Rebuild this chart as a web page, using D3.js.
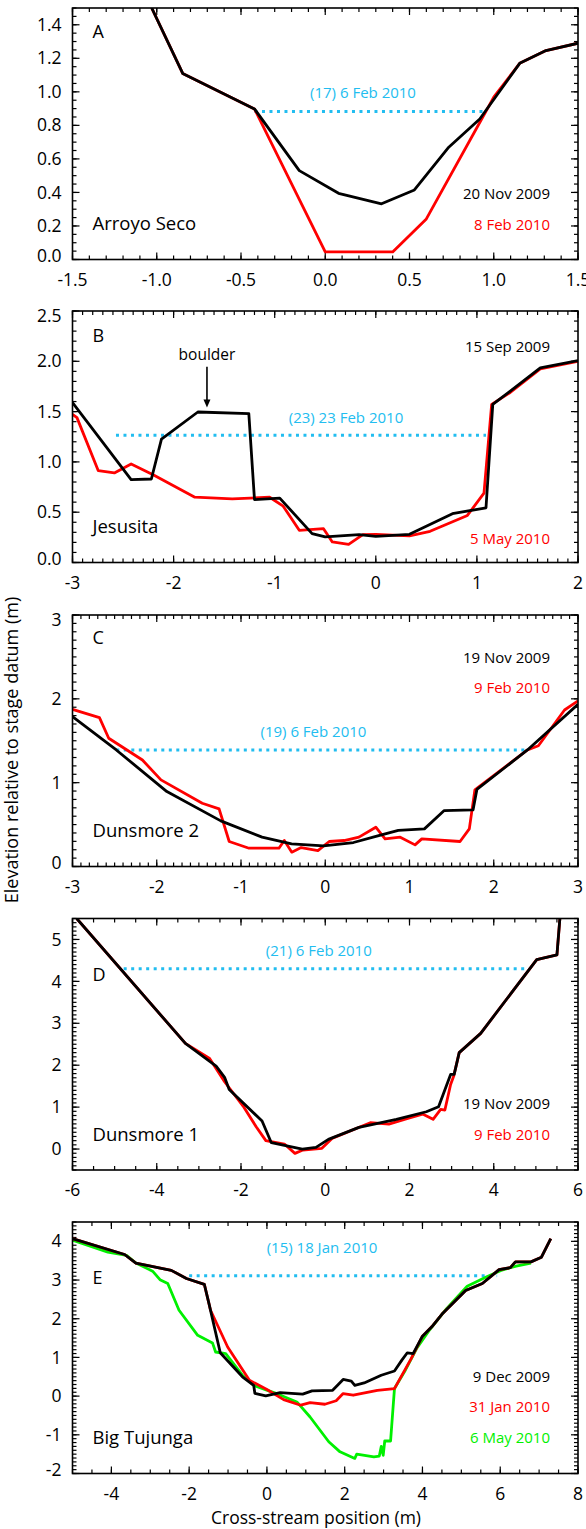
<!DOCTYPE html>
<html>
<head>
<meta charset="utf-8">
<script src="https://cdn.jsdelivr.net/npm/d3@7"></script>
<style>
  body { margin: 0; background: #fff; }
  svg text { font-family: "Open Sans", sans-serif; }
</style>
</head>
<body>
<script>
// cross-section profiles, [cross-stream position (m), elevation (m)]

// A - Arroyo Seco
var arroyoNov2009 = [[-1.03,1.50],[-0.846,1.11],[-0.42,0.898],[-0.154,0.53],[0.079,0.395],[0.334,0.332],
  [0.529,0.415],[0.733,0.67],[0.917,0.838],[1.154,1.17],[1.31,1.246],[1.5,1.29]];
var arroyoFeb2010 = [[-1.03,1.50],[-0.846,1.11],[-0.42,0.898],[0.0,0.045],[0.40,0.045],[0.60,0.242],
  [1.0,0.968],[1.154,1.17],[1.31,1.246],[1.5,1.29]];

// B - Jesusita
var jesusitaSep2009 = [[-3,1.589],[-2.42,0.824],[-2.22,0.83],[-2.12,1.226],[-1.76,1.496],[-1.256,1.48],
  [-1.20,0.626],[-0.95,0.64],[-0.63,0.287],[-0.50,0.254],[-0.165,0.277],[0.0,0.26],[0.333,0.28],
  [0.758,0.485],[1.09,0.544],[1.157,1.572],[1.33,1.704],[1.627,1.935],[2.0,2.007]];
var jesusitaMay2010 = [[-3,1.473],[-2.956,1.44],[-2.745,0.913],[-2.586,0.89],[-2.42,0.979],[-2.198,0.87],
  [-1.79,0.649],[-1.42,0.633],[-1.05,0.649],[-0.916,0.56],[-0.757,0.32],[-0.517,0.336],[-0.43,0.204],
  [-0.269,0.181],[-0.128,0.277],[0.0,0.28],[0.333,0.264],[0.537,0.31],[0.906,0.468],[1.07,0.69],
  [1.146,1.572],[1.33,1.69],[1.627,1.925],[2.0,2.0]];

// C - Dunsmore 2
var dunsmore2Nov2009 = [[-3,1.788],[-2.48,1.39],[-1.88,0.894],[-1.24,0.544],[-0.75,0.35],[-0.40,0.27],
  [-0.02,0.246],[0.335,0.286],[0.623,0.366],[0.867,0.43],[1.177,0.449],[1.412,0.667],[1.754,0.675],
  [1.80,0.92],[2.40,1.39],[3.0,1.935]];
var dunsmore2Feb2010 = [[-3,1.875],[-2.68,1.776],[-2.57,1.53],[-2.17,1.27],[-1.95,1.033],[-1.46,0.755],
  [-1.26,0.687],[-1.14,0.298],[-0.905,0.218],[-0.55,0.218],[-0.486,0.31],[-0.397,0.171],[-0.286,0.226],
  [-0.087,0.19],[0.047,0.298],[0.224,0.31],[0.40,0.35],[0.60,0.469],[0.71,0.33],[0.89,0.35],
  [1.066,0.258],[1.146,0.33],[1.60,0.298],[1.71,0.449],[1.776,0.914],[2.40,1.39],[2.53,1.44],
  [2.84,1.867],[3.0,1.975]];

// D - Dunsmore 1
var dunsmore1Nov2009 = [[-5.9,5.5],[-3.32,2.52],[-2.59,1.98],[-2.39,1.71],[-2.28,1.42],[-1.50,0.668],
  [-1.28,0.151],[-0.545,0.0],[-0.22,0.04],[0.075,0.23],[0.80,0.517],[1.69,0.707],[2.40,0.89],
  [2.69,1.01],[2.976,1.78],[3.06,1.78],[3.18,2.30],[3.69,2.76],[5.02,4.52],[5.50,4.63],[5.57,5.5]];
var dunsmore1Feb2010 = [[-5.9,5.5],[-3.32,2.52],[-2.745,2.16],[-2.39,1.606],[-1.95,1.025],[-1.64,0.533],
  [-1.41,0.2],[-0.97,0.12],[-0.72,-0.103],[-0.53,-0.024],[-0.08,0.016],[0.16,0.254],[1.07,0.628],
  [1.51,0.596],[1.96,0.73],[2.31,0.835],[2.56,0.71],[2.74,0.946],[2.84,0.93],[2.976,1.54],[3.05,1.74],
  [3.18,2.30],[3.69,2.76],[5.02,4.52],[5.50,4.63],[5.57,5.5]];

// E - Big Tujunga
var tujungaDec2009 = [[-5.0,4.07],[-3.66,3.66],[-3.37,3.44],[-2.46,3.25],[-2.07,3.04],[-1.61,2.89],
  [-1.49,2.39],[-1.20,1.12],[-0.63,0.50],[-0.34,0.28],[-0.31,0.07],[-0.03,0.006],[0.34,0.09],
  [0.92,0.05],[1.16,0.135],[1.69,0.15],[1.96,0.43],[2.17,0.39],[2.26,0.28],[2.50,0.34],[2.94,0.54],
  [3.28,0.65],[3.47,0.93],[3.61,1.12],[3.76,1.10],[4.0,1.55],[4.24,1.79],[4.53,2.15],[5.11,2.73],
  [5.54,2.91],[5.97,3.27],[6.26,3.32],[6.39,3.47],[6.79,3.47],[7.06,3.59],[7.30,4.07]];
var tujungaJan2010 = [[-5.0,4.07],[-3.66,3.66],[-3.37,3.44],[-2.46,3.25],[-2.07,3.04],[-1.61,2.89],
  [-1.45,2.22],[-1.01,1.27],[-0.45,0.41],[0.0,0.17],[0.43,-0.09],[0.87,-0.235],[1.11,-0.17],
  [1.49,-0.21],[1.78,-0.12],[1.96,0.066],[2.22,0.023],[2.84,0.15],[3.28,0.195],[3.71,0.97],
  [4.0,1.55],[4.24,1.79],[4.53,2.15],[5.11,2.73],[5.54,2.91],[5.97,3.27],[6.26,3.32],[6.39,3.47],
  [6.79,3.47],[7.06,3.59],[7.30,4.07]];
var tujungaMay2010 = [[-5.0,4.03],[-4.09,3.72],[-3.61,3.64],[-3.37,3.44],[-2.94,3.23],[-2.75,3.01],
  [-2.55,2.91],[-2.26,2.22],[-1.78,1.57],[-1.40,1.375],[-1.32,1.14],[-1.06,1.10],[-0.63,0.54],
  [-0.34,0.28],[0.05,0.134],[0.29,0.05],[0.77,-0.15],[1.11,-0.54],[1.59,-1.18],[1.88,-1.44],
  [2.26,-1.61],[2.31,-1.50],[2.75,-1.57],[2.89,-1.55],[2.94,-1.30],[2.99,-1.53],[3.03,-1.16],
  [3.18,-1.16],[3.28,0.195],[3.56,0.67],[3.85,1.23],[4.19,1.72],[4.62,2.26],[5.15,2.84],
  [5.64,3.08],[6.02,3.25],[6.41,3.36],[6.79,3.44]];

// peak stage lines: [x start, x end, elevation]
var stageA = [-0.42, 0.95, 0.882];
var stageB = [-2.57, 1.09, 1.266];
var stageC = [-2.48, 2.375, 1.39];
var stageD = [-4.785, 4.79, 4.30];
var stageE = [-2.0, 5.92, 3.11];

var stageLabels = ["(17) 6 Feb 2010", "(23) 23 Feb 2010", "(19) 6 Feb 2010", "(21) 6 Feb 2010", "(15) 18 Jan 2010"];
var siteNames = ["Arroyo Seco", "Jesusita", "Dunsmore 2", "Dunsmore 1", "Big Tujunga"];
var panelLetters = ["A", "B", "C", "D", "E"];

var red = "#ff0000", green = "#00f000", blue = "#22bdf0";

var panels = [
  {x: [-1.5, 1.5], y: [0, 1.5], xMaj: 0.5, xMin: 0.1, yMaj: 0.2, yMin: 0.05, xf: ".1f", yf: ".1f",
   series: [[arroyoFeb2010, red], [arroyoNov2009, "#000"]], stage: stageA, stageX: 0.224, stageY: 90,
   letterY: 30, dates: [["20 Nov 2009", "#000", 191], ["8 Feb 2010", red, 222]]},
  {x: [-3, 2], y: [0, 2.5], xMaj: 1, xMin: 0.1, yMaj: 0.5, yMin: 0.1, xf: "d", yf: ".1f",
   series: [[jesusitaMay2010, red], [jesusitaSep2009, "#000"]], stage: stageB, stageX: -0.295, stageY: 112,
   letterY: 31, dates: [["15 Sep 2009", "#000", 41], ["5 May 2010", red, 233]]},
  {x: [-3, 3], y: [0, 3], xMaj: 1, xMin: 0.1, yMaj: 1, yMin: 0.1, xf: "d", yf: "d",
   series: [[dunsmore2Feb2010, red], [dunsmore2Nov2009, "#000"]], stage: stageC, stageX: -0.14, stageY: 122,
   letterY: 29, dates: [["19 Nov 2009", "#000", 48], ["9 Feb 2010", red, 78]]},
  {x: [-6, 6], y: [-0.5, 5.5], xMaj: 2, xMin: 0.5, yMaj: 1, yMin: 0.1, xf: "d", yf: "d",
   series: [[dunsmore1Feb2010, red], [dunsmore1Nov2009, "#000"]], stage: stageD, stageX: -0.153, stageY: 37,
   letterY: 62, dates: [["19 Nov 2009", "#000", 190], ["9 Feb 2010", red, 221]]},
  {x: [-5, 8], y: [-2, 4.5], xMaj: 2, xMin: 0.5, yMaj: 1, yMin: 0.1, xf: "d", yf: "d",
   series: [[tujungaMay2010, green], [tujungaJan2010, red], [tujungaDec2009, "#000"]], stage: stageE, stageX: 1.417, stageY: 31,
   letterY: 62, dates: [["9 Dec 2009", "#000", 160], ["31 Jan 2010", red, 190], ["6 May 2010", green, 221]]}
];

var W = 586, H = 1529;
var left = 72.5, right = 578, ph = 251.5;
var tops = [8, 311, 615, 918.5, 1222];

var svg = d3.select("body").append("svg")
            .attr("width", W)
            .attr("height", H);

function steps(d, step) {
  // tick values on multiples of step inside the domain
  var a = Math.ceil(d[0] / step - 1e-6), b = Math.floor(d[1] / step + 1e-6);
  return d3.range(a, b + 1).map(function(i) { return +(i * step).toFixed(6); });
}

function fmt(f) {
  var g = d3.format(f);
  return function(v) { return g(v).replace("\u2212", "-"); };
}

panels.forEach(function(p, i) {
  var top = tops[i], bottom = top + ph;
  var x = d3.scaleLinear().domain(p.x).range([left, right]);
  var y = d3.scaleLinear().domain(p.y).range([bottom, top]);
  var g = svg.append("g").attr("class", "panel");

  g.append("clipPath").attr("id", "clip" + i)
   .append("rect").attr("x", left).attr("y", top).attr("width", right - left).attr("height", ph);

  // ticks on all four sides, pointing in
  var xMajor = steps(p.x, p.xMaj), xMinor = steps(p.x, p.xMin);
  var yMajor = steps(p.y, p.yMaj), yMinor = steps(p.y, p.yMin);
  var tk = g.append("g").attr("stroke", "#000").attr("stroke-width", 1.2);
  [[xMinor, 4], [xMajor, 7]].forEach(function(t) {
    t[0].forEach(function(v) {
      tk.append("line").attr("x1", x(v)).attr("x2", x(v)).attr("y1", bottom).attr("y2", bottom - t[1]);
      tk.append("line").attr("x1", x(v)).attr("x2", x(v)).attr("y1", top).attr("y2", top + t[1]);
    });
  });
  [[yMinor, 4], [yMajor, 7]].forEach(function(t) {
    t[0].forEach(function(v) {
      tk.append("line").attr("y1", y(v)).attr("y2", y(v)).attr("x1", left).attr("x2", left + t[1]);
      tk.append("line").attr("y1", y(v)).attr("y2", y(v)).attr("x1", right).attr("x2", right - t[1]);
    });
  });

  // tick labels
  var xf = fmt(p.xf), yf = fmt(p.yf);
  g.selectAll(".xl").data(xMajor).enter().append("text")
   .attr("x", function(d) { return x(d); })
   .attr("y", bottom + 26)
   .attr("text-anchor", "middle")
   .attr("font-size", 17.5)
   .text(xf);
  g.selectAll(".yl").data(yMajor).enter().append("text")
   .attr("x", left - 11)
   .attr("y", function(d) {
     var yy = y(d);
     // labels at the frame edges are nudged inward
     if (Math.abs(d - p.y[0]) < 1e-6) yy -= 4;
     if (Math.abs(d - p.y[1]) < 1e-6) yy += 5;
     return yy;
   })
   .attr("dy", "0.35em")
   .attr("text-anchor", "end")
   .attr("font-size", 17.5)
   .text(yf);

  // stage line
  g.append("line")
   .attr("x1", x(p.stage[0])).attr("x2", x(p.stage[1]))
   .attr("y1", y(p.stage[2])).attr("y2", y(p.stage[2]))
   .attr("stroke", blue).attr("stroke-width", 3)
   .attr("stroke-dasharray", "3,4.5");

  // profiles
  var line = d3.line().x(function(d) { return x(d[0]); }).y(function(d) { return y(d[1]); });
  var lg = g.append("g").attr("clip-path", "url(#clip" + i + ")");
  p.series.forEach(function(s) {
    lg.append("path").datum(s[0])
      .attr("d", line)
      .attr("fill", "none")
      .attr("stroke", s[1])
      .attr("stroke-width", 2.8)
      .attr("stroke-linejoin", "round");
  });

  // frame
  g.append("rect").attr("x", left).attr("y", top).attr("width", right - left).attr("height", ph)
   .attr("fill", "none").attr("stroke", "#000").attr("stroke-width", 1.6);

  // labels
  g.append("text").attr("x", left + 20).attr("y", top + p.letterY).attr("font-size", 18).text(panelLetters[i]);
  g.append("text").attr("x", left + 20).attr("y", top + 222).attr("font-size", 18.5).text(siteNames[i]);
  g.append("text").attr("x", x(p.stageX)).attr("y", top + p.stageY).attr("text-anchor", "middle")
   .attr("font-size", 15).attr("fill", blue).text(stageLabels[i]);
  p.dates.forEach(function(d) {
    g.append("text").attr("x", right - 28).attr("y", top + d[2]).attr("text-anchor", "end")
     .attr("font-size", 15).attr("fill", d[1]).text(d[0]);
  });

  if (i == 1) {
    // boulder annotation
    var bx = x(-1.67);
    g.append("text").attr("x", bx).attr("y", top + 49).attr("text-anchor", "middle").attr("font-size", 15.5).text("boulder");
    g.append("line").attr("x1", bx).attr("x2", bx).attr("y1", y(1.945)).attr("y2", y(1.60))
     .attr("stroke", "#000").attr("stroke-width", 1.6);
    g.append("path")
     .attr("d", "M" + (bx - 3.5) + "," + y(1.62) + "L" + (bx + 3.5) + "," + y(1.62) + "L" + bx + "," + y(1.54) + "Z")
     .attr("fill", "#000");
  }
});

// axis titles
svg.append("text")
   .attr("x", 316).attr("y", 1524)
   .attr("text-anchor", "middle")
   .attr("font-size", 17.5)
   .text("Cross-stream position (m)");
svg.append("text")
   .attr("transform", "translate(18,750) rotate(-90)")
   .attr("text-anchor", "middle")
   .attr("font-size", 18)
   .text("Elevation relative to stage datum (m)");
</script>
</body>
</html>
